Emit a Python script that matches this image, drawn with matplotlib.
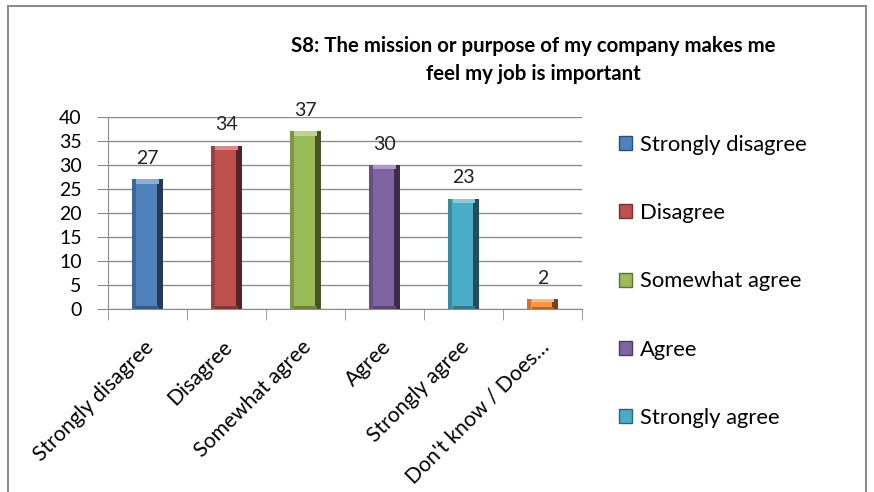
import matplotlib
matplotlib.use("Agg")
import matplotlib.pyplot as plt
from matplotlib.patches import Patch, Rectangle
from matplotlib.transforms import ScaledTranslation
import matplotlib.colors as mcolors

plt.rcParams['font.family'] = ['Lato', 'DejaVu Sans']

categories = ["Strongly disagree", "Disagree", "Somewhat agree", "Agree",
              "Strongly agree", "Don't know / Does\u2026"]
values = [27, 34, 37, 30, 23, 2]
colors = ["#4F81BD", "#C0504D", "#9BBB59", "#8064A2", "#4BACC6", "#F79646"]
yticks = [0, 5, 10, 15, 20, 25, 30, 35, 40]
title = "S8: The mission or purpose of my company makes me\nfeel my job is important"


def shade(c, f):
    r, g, b = mcolors.to_rgb(c)
    if f < 1:
        return (r * f, g * f, b * f)
    f = f - 1
    return (r + (1 - r) * f, g + (1 - g) * f, b + (1 - b) * f)


fig = plt.figure(figsize=(8.74, 4.92), dpi=100)
ax = fig.add_axes([0.1236, 0.372, 0.5424, 0.39])

x = list(range(len(categories)))
w = 0.4
ax.bar(x, values, width=w, color=colors, zorder=3)
# bevel look: dark right edge, light left edge, light top and dark bottom caps
for i, v in enumerate(values):
    c = colors[i]
    ax.bar(i + w / 2 - 0.04, v, width=0.08, color=shade(c, 0.45), zorder=4)
    ax.bar(i - w / 2 + 0.025, v, width=0.05, color=shade(c, 0.8), zorder=4)
    cap = min(0.9, v * 0.3)
    ax.bar(i, cap, bottom=v - cap, width=w - 0.12, color=shade(c, 1.35), zorder=5)
    ax.bar(i, cap * 0.8, bottom=0, width=w - 0.12, color=shade(c, 0.7), zorder=5)
    ax.annotate(str(v), (i, v), xytext=(0, 9), textcoords="offset points",
                ha="center", va="bottom", fontsize=14, color="#222222")

ax.set_xlim(-0.5, len(categories) - 0.5)
ax.set_ylim(0, 40)
ax.set_yticks(yticks)
ax.yaxis.grid(True, color="#8c8c8c", linewidth=1, zorder=0)
ax.set_axisbelow(True)
ax.tick_params(axis="y", length=8, color="#8c8c8c", labelsize=14, pad=11)
ax.set_xticks([i + 0.5 for i in range(-1, len(categories))], minor=True)
ax.set_xticks(x)
ax.set_xticklabels(categories, rotation=45, ha="right", va="top",
                   rotation_mode="anchor", fontsize=15.2)
ax.tick_params(axis="x", which="major", length=0, pad=20)
ax.tick_params(axis="x", which="minor", length=8, color="#8c8c8c")
shift = ScaledTranslation(-4 / 100, 0, fig.dpi_scale_trans)
for lab in ax.get_xticklabels():
    lab.set_transform(lab.get_transform() + shift)
for s in ["top", "right"]:
    ax.spines[s].set_visible(False)
for s in ["left", "bottom"]:
    ax.spines[s].set_color("#8c8c8c")

fig.text(0.61, 0.878, title, ha="center", va="center", fontsize=14.7,
         fontweight="bold", linespacing=1.47)

handles = [Patch(facecolor=colors[i], edgecolor=shade(colors[i], 0.6)) for i in range(5)]
fig.legend(handles, categories[:5], loc="upper left", bbox_to_anchor=(0.686, 0.766),
           frameon=False, fontsize=15.8, labelspacing=2.2, handlelength=0.6,
           handleheight=0.6, handletextpad=0.35)

fig.patches.append(Rectangle((0.009, -0.1), 0.982, 1.088, transform=fig.transFigure,
                             fill=False, edgecolor="#8c8c8c", linewidth=1.5))

fig.savefig("out.png", dpi=100)
